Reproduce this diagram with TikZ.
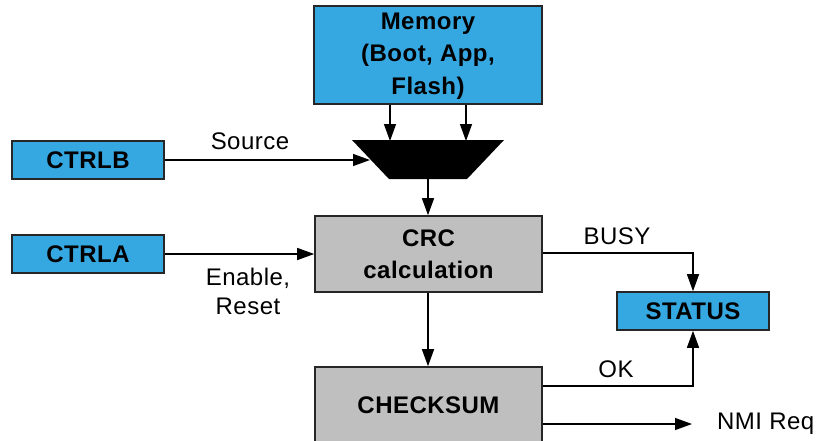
\documentclass[tikz,border=0pt]{standalone}
\usepackage{fontspec}
\setmainfont{Liberation Sans}[LetterSpace=2]
\usetikzlibrary{arrows.meta}
\definecolor{boxblue}{RGB}{53,168,225}
\definecolor{boxgray}{RGB}{191,191,191}
\begin{document}
\begin{tikzpicture}[x=1pt,y=-1pt,
  blk/.style={draw=black!85,line width=1.6pt,inner sep=0pt,font=\fontsize{24}{32.5}\selectfont\bfseries,align=center},
  bluebox/.style={blk,fill=boxblue},
  graybox/.style={blk,fill=boxgray},
  conn/.style={line width=1.4pt,-{Triangle[length=17pt,width=12pt]}},
  lbl/.style={font=\fontsize{24}{29}\selectfont,align=center,inner sep=0pt}]
\useasboundingbox (0,0) rectangle (822,440);
\node[bluebox,minimum width=228pt,minimum height=95pt] (mem) at (428,55) {\raisebox{-2pt}{\begin{tabular}{@{}c@{}}Memory\\(Boot, App,\\Flash)\end{tabular}}};
\node[bluebox,minimum width=152pt,minimum height=38pt] (ctrlb) at (88,160) {CTRLB};
\node[bluebox,minimum width=152pt,minimum height=38pt] (ctrla) at (88,254) {CTRLA};
\node[graybox,minimum width=227pt,minimum height=76pt] (crc) at (428.5,254) {CRC\\calculation};
\node[graybox,minimum width=227pt,minimum height=76pt] (chk) at (428.5,405) {CHECKSUM};
\node[bluebox,minimum width=152pt,minimum height=38pt] (status) at (693,311) {STATUS};
% multiplexer
\coordinate (muxtl) at (352,140);
\coordinate (muxtr) at (504,140);
\coordinate (muxbr) at (467,179);
\coordinate (muxbl) at (389,179);
\fill (muxtl) -- (muxtr) -- (muxbr) -- (muxbl) -- cycle;
\coordinate (muxin1) at (390,141);
\coordinate (muxin2) at (466,141);
\coordinate (muxsel) at (370,160);
\coordinate (muxout) at (428,179);
\draw[conn] (mem.south -| muxin1) -- (muxin1);
\draw[conn] (mem.south -| muxin2) -- (muxin2);
\draw[conn] (muxout) -- (crc.north -| muxout);
\draw[conn] (ctrlb.east) -- (muxsel);
\draw[conn] (ctrla.east) -- (crc.west);
\draw[conn] (crc.south -| muxout) -- (chk.north -| muxout);
\coordinate (busyc) at (693,253);
\draw[conn] (crc.east |- busyc) -- (busyc) -- (status.north);
\coordinate (okc) at (693,386);
\draw[conn] (chk.east |- okc) -- (okc) -- (status.south);
\coordinate (nmi) at (692,424);
\draw[conn] (chk.east |- nmi) -- (nmi);
% labels
\node[lbl] (lsrc) at (250,141) {Source};
\node[lbl] (len) at (248,291) {Enable,\\Reset};
\node[lbl] (lbusy) at (617,236) {BUSY};
\node[lbl] (lok) at (616,369) {OK};
\node[lbl,anchor=west] (lnmi) at (717,424) {NMI Req};
\end{tikzpicture}
\end{document}
